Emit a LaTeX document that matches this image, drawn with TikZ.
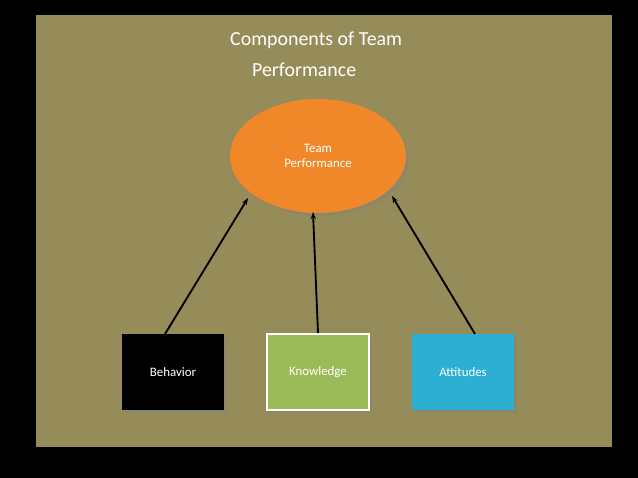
\documentclass[tikz,border=0pt]{standalone}
\usepackage{fontspec}
\setmainfont{Carlito}
\usetikzlibrary{arrows.meta,shadows,shapes.geometric}
\definecolor{olive}{RGB}{150,140,90}
\definecolor{orng}{RGB}{240,135,40}
\definecolor{grn}{RGB}{155,187,89}
\definecolor{blu}{RGB}{45,175,211}
\tikzset{box/.style={minimum width=3.06cm,minimum height=2.28cm,text=white,font=\fontsize{11}{13}\selectfont,drop shadow={opacity=0.4}},
arr/.style={line width=1.6pt,-{Stealth[length=6pt]}}}
\begin{document}
\begin{tikzpicture}[x=0.03cm,y=-0.03cm]
\fill[black] (0,0) rectangle (638,478);
\fill[olive] (36,15) rectangle (612,447);
\node[anchor=west,text=white,font=\fontsize{17}{20}\selectfont] (t1) at (226,40) {Components of Team};
\node[anchor=west,text=white,font=\fontsize{17}{20}\selectfont] (t2) at (248,70) {Performance};
\node[ellipse,fill=orng,minimum width=5.28cm,minimum height=3.42cm,text=white,align=center,font=\fontsize{11}{13}\selectfont,drop shadow={opacity=0.4}] (tp) at (318,156) {Team\\Performance};
\node[box,fill=black] (b) at (173,372) {Behavior};
\node[box,fill=grn,draw=white,line width=1.5pt] (k) at (318,372) {Knowledge};
\node[box,fill=blu] (a) at (463,372) {Attitudes};
\draw[arr] (165,334) -- (248,198);
\draw[arr] (k.north) -- (313,212);
\draw[arr] (475,334) -- (392,196);
\end{tikzpicture}
\end{document}
